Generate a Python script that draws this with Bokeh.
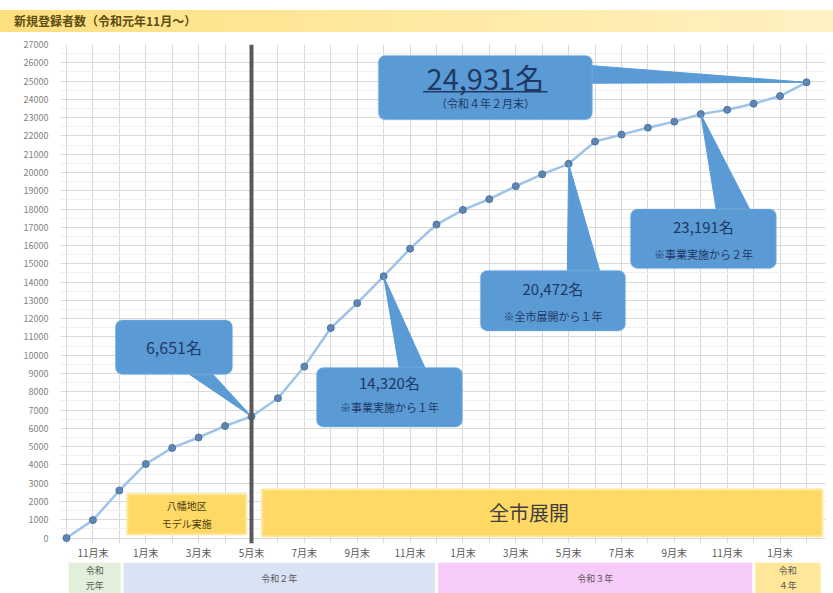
from bokeh.plotting import figure
from bokeh.models import Range1d, FixedTicker, Span, BoxAnnotation, ColumnDataSource, Label, Div
from bokeh.layouts import column
from bokeh.embed import file_html
from bokeh.resources import INLINE
from bokeh.core.properties import value

FONT = "Noto Sans CJK JP"

# ---------------- data ----------------
title_text = "新規登録者数（令和元年11月～）"
month_index = list(range(29))  # 0 = start (令和元年10月末) ... 28 = 令和4年2月末
registrations = [0, 980, 2600, 4050, 4930, 5500, 6130, 6651, 7650, 9380, 11490,
                 12850, 14320, 15830, 17150, 17950, 18540, 19250, 19900, 20472,
                 21690, 22070, 22450, 22780, 23191, 23430, 23760, 24180, 24931]
tick_positions = [1, 3, 5, 7, 9, 11, 13, 15, 17, 19, 21, 23, 25, 27]
tick_labels = ["11月末", "1月末", "3月末", "5月末", "7月末", "9月末", "11月末",
               "1月末", "3月末", "5月末", "7月末", "9月末", "11月末", "1月末"]
y_ticks = list(range(0, 27001, 1000))

phase_names = ["八幡地区\nモデル実施", "全市展開"]
phase_start = [2.3, 7.4]
phase_end = [6.8, 28.6]

year_names = ["令和\n元年", "令和２年", "令和３年", "令和\n４年"]
year_start = [0.08, 2.16, 14.06, 26.06]
year_end = [2.05, 13.95, 25.95, 28.53]
year_colors = ["#e2efda", "#dae3f3", "#f7cbf7", "#ffe699"]

split_month = 7  # 全市展開 start (令和2年5月末)

callout_index = [7, 12, 19, 24, 28]
callout_main = ["6,651名", "14,320名", "20,472名", "23,191名", "24,931名"]
callout_sub = ["", "※事業実施から１年", "※全市展開から１年", "※事業実施から２年", "（令和４年２月末）"]

# ---------------- layout ----------------
W = 833
XR = Range1d(-0.227, 28.72)
YR = Range1d(-300, 27000)

# title bar
title_div = Div(text=title_text, width=W, height=22, margin=(10, 0, 0, 0),
                styles={"background": "linear-gradient(to right, #ffe07f, #fff1c4)",
                        "font-family": FONT, "font-size": "12px", "font-weight": "bold",
                        "color": "#5c4d12", "padding-left": "14px", "line-height": "22px",
                        "box-sizing": "border-box", "width": f"{W}px", "height": "22px"})

# main chart
p = figure(width=W, height=530, x_range=XR, y_range=YR, toolbar_location=None,
           output_backend="svg", min_border_left=60, min_border_right=8,
           min_border_top=12, min_border_bottom=15)
p.outline_line_color = None
p.background_fill_color = "white"

p.yaxis.ticker = FixedTicker(ticks=y_ticks, minor_ticks=list(range(500, 27000, 1000)))
p.yaxis.axis_line_color = None
p.yaxis.major_tick_line_color = None
p.yaxis.minor_tick_line_color = None
p.yaxis.major_tick_out = 0
p.yaxis.major_label_standoff = 8
p.yaxis.major_label_text_font = FONT
p.yaxis.major_label_text_font_size = "9px"
p.yaxis.major_label_text_color = "#7f7f7f"

p.xaxis.ticker = FixedTicker(ticks=tick_positions)
p.xaxis.major_label_overrides = {t: l for t, l in zip(tick_positions, tick_labels)}
p.xaxis.axis_line_color = None
p.xaxis.major_tick_line_color = None
p.xaxis.minor_tick_line_color = None
p.xaxis.major_tick_out = 0
p.xaxis.major_label_standoff = 1
p.xaxis.major_label_text_font = FONT
p.xaxis.major_label_text_font_size = "10px"
p.xaxis.major_label_text_color = "#595959"

p.xgrid.ticker = FixedTicker(ticks=month_index)
p.xgrid.grid_line_color = "#d9d9d9"
p.ygrid.grid_line_color = "#d9d9d9"
p.ygrid.minor_grid_line_color = "#f0f0f0"

# phase boxes
ph = ColumnDataSource(dict(left=phase_start, right=phase_end,
                           top=[2400, 2650], bottom=[200, 100]))
p.quad(left="left", right="right", top="top", bottom="bottom", source=ph,
       fill_color="#ffd966", line_color="#ffe699", line_width=2)
p.text(x=[(phase_start[0] + phase_end[0]) / 2], y=[1300], text=[phase_names[0]],
       text_font=value(FONT), text_font_size="10px", text_color="#4a3d10",
       text_align="center", text_baseline="middle", text_line_height=1.2)
p.text(x=[17.5], y=[1380], text=[phase_names[1]],
       text_font=value(FONT), text_font_size="20px", text_color="#3f3f3f",
       text_align="center", text_baseline="middle")

# divider line
p.add_layout(Span(location=split_month, dimension="height", line_color="#595959", line_width=4))

# data line
src = ColumnDataSource(dict(x=month_index, y=registrations))
p.line("x", "y", source=src, line_color="#9dc3e6", line_width=2.5)
p.scatter("x", "y", source=src, size=7, fill_color="#5f86b3", line_color="#4f76a3")

# callouts
CBLUE = "#5b9bd5"
boxes = [  # left, right, top, bottom
    (1.85, 6.28, 11930, 8950),
    (9.46, 14.98, 9330, 6070),
    (15.66, 21.15, 14640, 11330),
    (21.34, 26.86, 18000, 14750),
    (11.8, 19.9, 26400, 22880),
]
pointer_xs = [
    [4.5, 5.45, callout_index[0]],
    [12.6, 13.6, callout_index[1]],
    [18.95, 20.2, callout_index[2]],
    [24.6, 25.9, callout_index[3]],
    [19.8, 19.8, callout_index[4]],
]
pointer_ys = [
    [9100, 9100, registrations[callout_index[0]]],
    [9200, 9200, registrations[callout_index[1]]],
    [14500, 14500, registrations[callout_index[2]]],
    [17850, 17850, registrations[callout_index[3]]],
    [25850, 24880, registrations[callout_index[4]]],
]
p.patches(xs=pointer_xs, ys=pointer_ys, fill_color=CBLUE, line_color=CBLUE)
for (l, r, t, b) in boxes:
    p.add_layout(BoxAnnotation(left=l, right=r, top=t, bottom=b, fill_color=CBLUE,
                               fill_alpha=1.0, line_color="#8fb9e3", line_width=1.5,
                               border_radius=7, level="overlay"))

main_sizes = ["16px", "15px", "15px", "15px", "29px"]
main_y = [10460, 8500, 13660, 17020, 25200]
sub_y = [None, 7150, 12140, 15560, 23800]
for i in range(5):
    l, r, t, b = boxes[i]
    cx = (l + r) / 2
    p.add_layout(Label(x=cx, y=main_y[i], text=callout_main[i], text_font=FONT,
                       text_font_size=main_sizes[i], text_color="#1f3864",
                       text_align="center", text_baseline="middle", level="overlay"))
    if callout_sub[i]:
        p.add_layout(Label(x=cx, y=sub_y[i], text=callout_sub[i], text_font=FONT,
                           text_font_size="11px", text_color="#1f3864",
                           text_align="center", text_baseline="middle", level="overlay"))

# underline for the latest total
p.add_layout(BoxAnnotation(left=13.5, right=18.2, top=24450, bottom=24370,
                           fill_color="#1f3864", fill_alpha=1.0, line_color=None,
                           level="overlay"))

# year bands
yfig = figure(width=W, height=31, x_range=XR, y_range=Range1d(0, 1),
              x_axis_type=None, y_axis_type=None, toolbar_location=None,
              output_backend="svg", min_border_left=60, min_border_right=8,
              min_border_top=0, min_border_bottom=0)
yfig.outline_line_color = None
yfig.grid.visible = False
ys = ColumnDataSource(dict(left=year_start, right=year_end, color=year_colors,
                           name=year_names,
                           cx=[(a + b) / 2 for a, b in zip(year_start, year_end)]))
yfig.quad(left="left", right="right", top=1, bottom=0, source=ys,
          fill_color="color", line_color=None)
yfig.text(x="cx", y=0.5, text="name", source=ys, text_font=value(FONT),
          text_font_size="9px", text_color="#595959", text_align="center",
          text_baseline="middle", text_line_height=1.15)

layout = column(title_div, p, yfig, spacing=0)
open("out.html", "w").write(file_html(layout, INLINE))
